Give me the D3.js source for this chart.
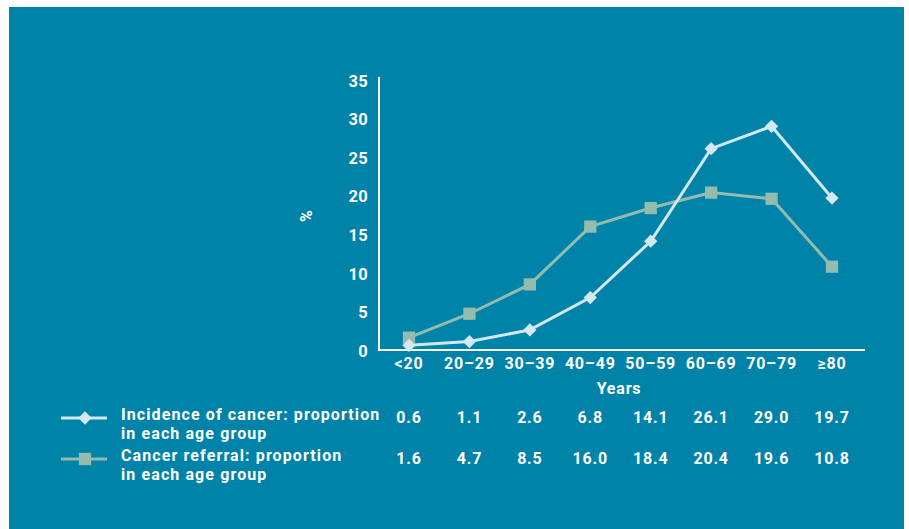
<!DOCTYPE html>
<html><head><meta charset="utf-8">
<script src="https://cdn.jsdelivr.net/npm/d3@7"></script>
<style>html,body{margin:0;padding:0;background:#fff;}svg{display:block;}</style>
</head><body>
<script>
const categories = ["<20","20–29","30–39","40–49","50–59","60–69","70–79","≥80"];
const incidence = [0.6,1.1,2.6,6.8,14.1,26.1,29.0,19.7];
const referral = [1.6,4.7,8.5,16.0,18.4,20.4,19.6,10.8];
const yTicks = [0,5,10,15,20,25,30,35];
const seriesNames = [["Incidence of cancer: proportion","in each age group"],["Cancer referral: proportion","in each age group"]];

const W=909,H=529;
const bg="#0083a9", cInc="#d3e8f1", cRef="#94bcae";
const font="Roboto, 'Liberation Sans', sans-serif";
const svg=d3.select("body").append("svg").attr("width",W).attr("height",H);
svg.append("rect").attr("x",9).attr("y",7).attr("width",895).attr("height",H-7).attr("fill",bg);

const x=d3.scalePoint().domain(categories).range([409,832]);
const y=d3.scaleLinear().domain([0,35]).range([350,80]);

function txt(sel,size,ls){return sel.attr("fill","#fff").attr("font-family",font).attr("font-weight","bold").attr("font-size",size).attr("letter-spacing",ls);}

svg.append("line").attr("x1",379).attr("x2",379).attr("y1",77).attr("y2",351).attr("stroke","#fff").attr("stroke-width",2);
svg.append("line").attr("x1",378).attr("x2",865).attr("y1",350).attr("y2",350).attr("stroke","#fff").attr("stroke-width",2);

txt(svg.selectAll("text.yt").data(yTicks).join("text").attr("class","yt")
  .attr("x",368).attr("y",d=>y(d)+1).attr("dy","0.35em").attr("text-anchor","end"),16.5,0.3).text(d=>d);

txt(svg.selectAll("text.xt").data(categories).join("text").attr("class","xt")
  .attr("x",d=>x(d)).attr("y",363).attr("dy","0.35em").attr("text-anchor","middle"),16,0.8).text(d=>d);

txt(svg.append("text").attr("x",619).attr("y",388).attr("dy","0.35em").attr("text-anchor","middle"),16,0.8).text("Years");
txt(svg.append("text").attr("transform","translate(306,216) rotate(-90)").attr("dy","0.35em").attr("text-anchor","middle"),16,0).text("%");

const line=d3.line().x((d,i)=>x(categories[i])).y(d=>y(d));
svg.append("path").datum(referral).attr("d",line).attr("fill","none").attr("stroke",cRef).attr("stroke-width",3);
svg.append("path").datum(incidence).attr("d",line).attr("fill","none").attr("stroke",cInc).attr("stroke-width",3);

const sq=d3.symbol().type(d3.symbolSquare).size(150);
const dm=d3.symbol().type(d3.symbolSquare).size(88);
svg.selectAll("path.r").data(referral).join("path").attr("class","r")
  .attr("transform",(d,i)=>`translate(${x(categories[i])},${y(d)})`).attr("d",sq).attr("fill",cRef);
svg.selectAll("path.i").data(incidence).join("path").attr("class","i")
  .attr("transform",(d,i)=>`translate(${x(categories[i])},${y(d)}) rotate(45)`).attr("d",dm).attr("fill",cInc);

const rows=[{vals:incidence,c:cInc,sym:dm,rot:45,y:418,names:seriesNames[0]},{vals:referral,c:cRef,sym:sq,rot:0,y:459,names:seriesNames[1]}];
rows.forEach(r=>{
  svg.append("line").attr("x1",61).attr("x2",107).attr("y1",r.y).attr("y2",r.y).attr("stroke",r.c).attr("stroke-width",3);
  svg.append("path").attr("transform",`translate(85,${r.y}) rotate(${r.rot})`).attr("d",r.sym).attr("fill",r.c);
  txt(svg.append("text").attr("x",121).attr("y",r.y-4).attr("dy","0.35em"),16,1.1).text(r.names[0]);
  txt(svg.append("text").attr("x",121).attr("y",r.y+15).attr("dy","0.35em"),16,1.1).text(r.names[1]);
  txt(svg.selectAll(null).data(r.vals).join("text").attr("x",(d,i)=>x(categories[i])).attr("y",r.y-1).attr("dy","0.35em")
    .attr("text-anchor","middle"),16,0.8).text(d=>d.toFixed(1));
});
</script>
</body></html>
